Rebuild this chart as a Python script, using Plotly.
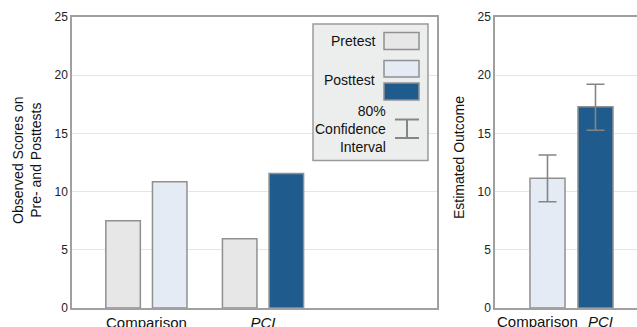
import plotly.graph_objects as go

# ---- data ----
groups = ["Comparison", "PCI"]
group_labels = ["Comparison", "<i>PCI</i>"]
pretest = [7.5, 5.95]
posttest = [10.85, 11.55]
estimated = [11.15, 17.3]
ci_upper = [13.15, 19.22]
ci_lower = [9.13, 15.27]
y_ticks = [0, 5, 10, 15, 20, 25]

# ---- styles ----
C_PRE = "#e6e7e6"
C_POST_CMP = "#e4ebf4"
C_POST_PCI = "#1f5c8d"
C_EDGE = "#909090"
C_AXIS = "#a0a0a0"
C_GRID = "#e6e6e6"
FONT = "Liberation Sans, Arial, sans-serif"

W, H = 637, 327
def px(x):
    return x / W
def py(y):
    return 1 - y / H

pos = [0, 1]
err_plus = [u - e for u, e in zip(ci_upper, estimated)]
err_minus = [e - l for l, e in zip(ci_lower, estimated)]

fig = go.Figure()
fig.add_trace(go.Bar(x=pos, y=pretest, name="Pretest", marker=dict(color=C_PRE, line=dict(color=C_EDGE, width=1.5)),
                     xaxis="x", yaxis="y", showlegend=False))
fig.add_trace(go.Bar(x=pos, y=posttest, name="Posttest",
                     marker=dict(color=[C_POST_CMP, C_POST_PCI], line=dict(color=C_EDGE, width=1.5)),
                     xaxis="x", yaxis="y", showlegend=False))
fig.add_trace(go.Bar(x=pos, y=estimated, name="Estimated", width=0.73,
                     marker=dict(color=[C_POST_CMP, C_POST_PCI], line=dict(color=C_EDGE, width=1.5)),
                     error_y=dict(type="data", array=err_plus, arrayminus=err_minus, color="#858585",
                                  thickness=1.6, width=9),
                     xaxis="x2", yaxis="y2", showlegend=False))

ydom = [1 - 308 / H, 1 - 17 / H]
axis_common = dict(showline=True, linecolor=C_AXIS, linewidth=1.5, zeroline=False, ticks="", automargin=False)
fig.update_layout(
    width=W, height=H, margin=dict(l=0, r=0, t=0, b=0, autoexpand=False),
    paper_bgcolor="white", plot_bgcolor="white",
    barmode="group", bargap=0.2, bargroupgap=0.26,
    font=dict(family=FONT, color="#222"),
    xaxis=dict(domain=[px(72), px(437)], range=[-0.638, 2.492], tickvals=pos, ticktext=group_labels,
               showgrid=False, mirror=True, tickangle=0, tickfont=dict(size=15, color="#111"), **axis_common),
    yaxis=dict(domain=ydom, range=[0, 25], tickvals=y_ticks, showgrid=True, gridcolor=C_GRID, gridwidth=1,
               mirror=True, tickfont=dict(size=12, color="#222"), **axis_common),
    xaxis2=dict(domain=[px(495), 1], range=[-1.094, 1.865], tickvals=pos, showticklabels=False,
                showgrid=False, mirror=True, anchor="y2", **axis_common),
    yaxis2=dict(domain=ydom, range=[0, 25], tickvals=y_ticks, showgrid=True, gridcolor=C_GRID, gridwidth=1,
                anchor="x2", mirror=False, tickfont=dict(size=12, color="#222"), **axis_common),
)

# right-panel category labels (spread apart so they don't collide)
for p, lab, shift in zip(pos, group_labels, [-10, 5]):
    fig.add_annotation(text=lab, x=p, y=0, xref="x2", yref="y2", xanchor="center", yanchor="top",
                       xshift=shift, yshift=-3, showarrow=False, font=dict(size=15, color="#111"))

# axis titles
fig.add_annotation(text="Observed Scores on<br>Pre- and Posttests", x=px(27), y=py(160), xref="paper", yref="paper",
                   xanchor="center", yanchor="middle",
                   textangle=-90, showarrow=False, font=dict(size=14, color="#111"))
fig.add_annotation(text="Estimated Outcome", x=px(459), y=py(157), xref="paper", yref="paper",
                   xanchor="center", yanchor="middle",
                   textangle=-90, showarrow=False, font=dict(size=14, color="#111"))

# legend box
shapes = []
shapes.append(dict(type="rect", xref="paper", yref="paper", x0=px(313), x1=px(428), y0=py(24), y1=py(160.5),
                   fillcolor="#eceeed", line=dict(color="#9a9a9a", width=1.5), layer="above"))
for (y0, y1, c) in [(32.5, 49.5, C_PRE), (60.5, 77, C_POST_CMP), (83, 100, C_POST_PCI)]:
    shapes.append(dict(type="rect", xref="paper", yref="paper", x0=px(384), x1=px(419), y0=py(y0), y1=py(y1),
                       fillcolor=c, line=dict(color=C_EDGE, width=1.5), layer="above"))
# CI icon
for (x0, y0, x1, y1) in [(407, 119.5, 407, 138), (395, 119.5, 419, 119.5), (395, 138, 419, 138)]:
    shapes.append(dict(type="line", xref="paper", yref="paper", x0=px(x0), x1=px(x1), y0=py(y0), y1=py(y1),
                       line=dict(color="#858585", width=2), layer="above"))
fig.update_layout(shapes=shapes)

for txt, x, y in [("Pretest", 377, 41.5), ("Posttest", 377, 79.5), ("80%<br>Confidence<br>Interval", 388, 128.5)]:
    fig.add_annotation(text=txt, x=px(x), y=py(y), xref="paper", yref="paper", xanchor="right", yanchor="middle",
                       align="right", showarrow=False, font=dict(size=14, color="#111"))

fig.write_html("out.html", config={"displayModeBar": False},
               post_script="document.body.style.margin='0';document.body.style.overflow='hidden';")
